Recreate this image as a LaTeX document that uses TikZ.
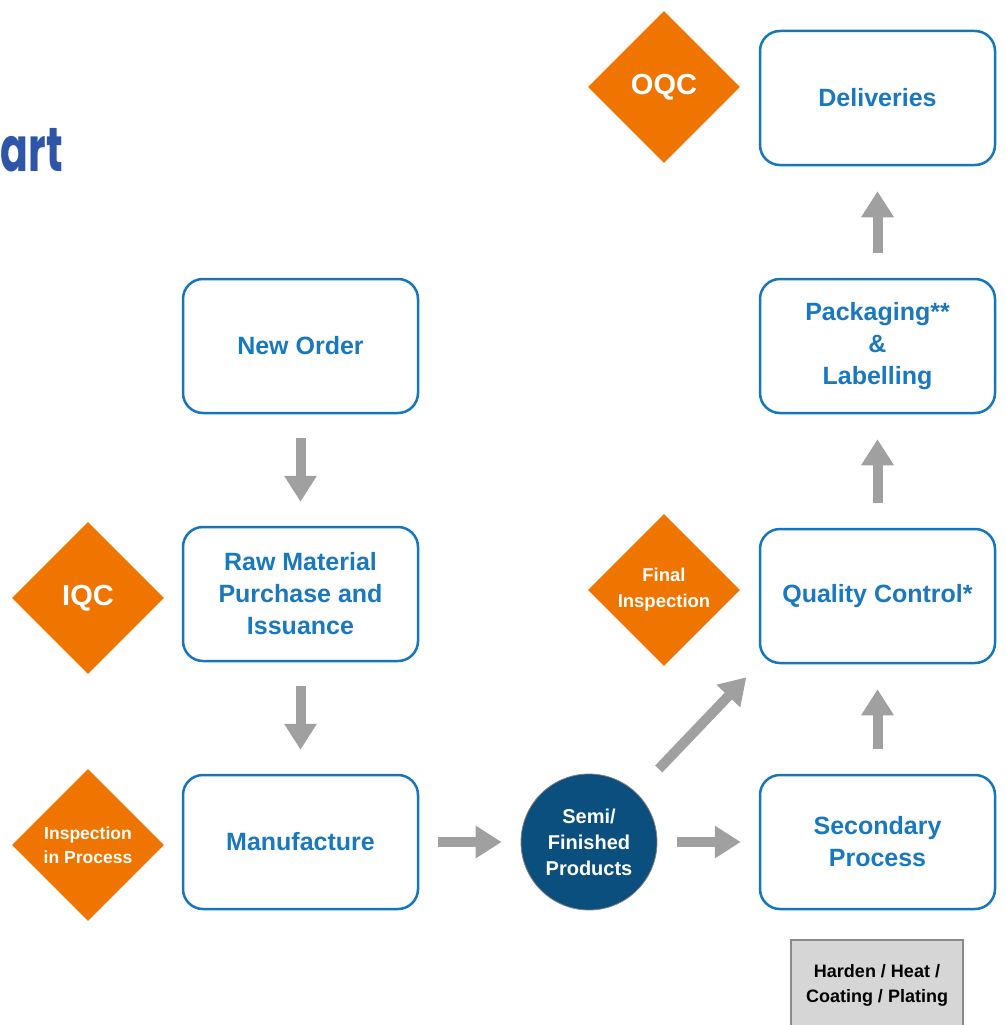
\documentclass[tikz,border=0pt]{standalone}
\usepackage{fontspec}
\setmainfont{Liberation Sans}
\newfontfamily\titlefont{Poppins}
\usetikzlibrary{shapes.geometric,arrows.meta}
\definecolor{bblue}{HTML}{1676BD}
\definecolor{tblue}{HTML}{1A78BE}
\definecolor{dorange}{HTML}{F07400}
\definecolor{agray}{HTML}{A0A0A0}
\definecolor{cblue}{HTML}{0B4F7F}
\definecolor{titleblue}{HTML}{2E56A8}
\definecolor{gbox}{HTML}{D6D6D6}
\definecolor{gborder}{HTML}{8A8A8A}
\tikzset{
  stepbox/.style={draw=bblue, line width=2.5pt, rounded corners=20pt, minimum width=235pt,
    minimum height=134pt, text=tblue, font=\bfseries\fontsize{25}{32}\selectfont, align=center, inner sep=0pt, fill=white},
  checkdia/.style={diamond, aspect=1, fill=dorange, text=white, minimum width=152pt, minimum height=152pt,
    inner sep=0pt, align=center},
  garrow/.style={draw=agray, line width=10pt, -{Triangle[width=31pt,length=26pt]}, fill=agray},
}
\begin{document}
\begin{tikzpicture}[x=1pt,y=-1pt]
\useasboundingbox (0,0) rectangle (1005,1025);
% title fragment
\node[anchor=base west, inner sep=0pt, font=\titlefont\bfseries\fontsize{64}{64}\selectfont, text=titleblue] (title) at (0.5,171) {\resizebox{62pt}{!}{\scalebox{0.66}[1]{art}}};
% boxes
\node[stepbox] (neworder) at (300.5,346) {New Order};
\node[stepbox] (raw) at (300.5,594) {Raw Material\\Purchase and\\Issuance};
\node[stepbox] (manu) at (300.5,842) {Manufacture};
\node[stepbox] (deliv) at (877.5,98) {Deliveries};
\node[stepbox] (pack) at (877.5,346) {Packaging**\\\&\\Labelling};
\node[stepbox] (qc) at (877.5,596) {Quality Control*};
\node[stepbox] (sec) at (877.5,842) {Secondary\\Process};
% diamonds
\node[checkdia, font=\bfseries\fontsize{29}{34}\selectfont] (oqc) at (664,87) {OQC};
\node[checkdia, font=\bfseries\fontsize{29}{34}\selectfont] (iqc) at (88,598) {IQC};
\node[checkdia, font=\bfseries\fontsize{17.5}{24}\selectfont] (iip) at (88,845) {Inspection\\in Process};
\node[checkdia, font=\bfseries\fontsize{18.5}{26}\selectfont] (fin) at (664,590) {Final\\Inspection};
% circle
\node[circle, fill=cblue, draw=gray, line width=0.8pt, minimum size=136pt, inner sep=0pt, text=white,
  align=center, font=\bfseries\fontsize{20}{26}\selectfont] (semi) at (589,842) {Semi/\\Finished\\Products};
% grey box
\node[draw=gborder, line width=1.5pt, fill=gbox, minimum width=172pt, minimum height=90pt, inner sep=0pt,
  align=center, font=\bfseries\fontsize{18}{25}\selectfont] (harden) at (877,985) {Harden / Heat /\\Coating / Plating};
% arrows
\draw[garrow, shorten <=24pt, shorten >=24pt] (neworder.south) -- (raw.north);
\draw[garrow, shorten <=24pt, shorten >=24pt] (raw.south) -- (manu.north);
\draw[garrow, shorten <=19pt, shorten >=19pt] (manu.east) -- (semi.west);
\draw[garrow, shorten <=20pt, shorten >=18pt] (semi.east) -- (sec.west);
\draw[garrow, shorten <=25pt, shorten >=25pt] (sec.north) -- (qc.south);
\draw[garrow, shorten <=25pt, shorten >=25pt] (qc.north) -- (pack.south);
\draw[garrow, shorten <=25pt, shorten >=25pt] (pack.north) -- (deliv.south);
\draw[garrow, shorten <=101pt, shorten >=18pt] (semi.center) -- (qc.south west);
\end{tikzpicture}
\end{document}
